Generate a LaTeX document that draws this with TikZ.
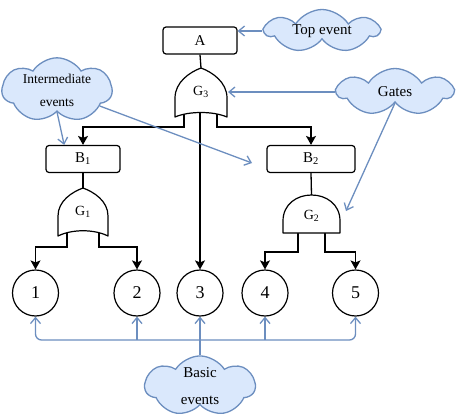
\documentclass[tikz,border=0pt]{standalone}
\usepackage{fontspec}
\setmainfont{Liberation Serif}
\usetikzlibrary{arrows.meta,shapes.symbols,calc}
\definecolor{notefill}{HTML}{DAE8FC}
\definecolor{noteline}{HTML}{6C8EBF}
\tikzset{
  evbox/.style={draw, line width=1.2pt, rounded corners=3pt, minimum width=74pt, minimum height=27pt, inner sep=0pt, font=\fontsize{15}{15}\selectfont},
  basicev/.style={draw, circle, line width=1.2pt, minimum size=46pt, inner sep=0pt, font=\fontsize{18}{18}\selectfont},
  gatelbl/.style={inner sep=0pt, font=\fontsize{14}{14}\selectfont},
  gate/.style={line width=1.2pt, fill=white, line join=round},
  wire/.style={line width=1.3pt},
  feed/.style={wire, -{Stealth[length=9pt,width=10pt,inset=2pt]}},
  note/.style={cloud, cloud puffs=7, cloud puff arc=115, cloud ignores aspect, draw=noteline, fill=notefill, line width=1.3pt, inner sep=0pt, align=center, font=\fontsize{15}{27}\selectfont},
  hint/.style={draw=noteline, line width=1.3pt, -{Straight Barb[length=6pt,width=10pt]}},
}
\begin{document}
\begin{tikzpicture}[x=1pt,y=-1pt]
    \useasboundingbox (0,0) rectangle (457,417);

    % Eventi
    \node[evbox] (A) at (200,40.5) {A};
    \node[evbox] (B1) at (83,159) {B\textsubscript{1}};
    \node[evbox, minimum width=88pt] (B2) at (311,159) {B\textsubscript{2}};
    \node[basicev] (e1) at (35.5,293) {1};
    \node[basicev] (e2) at (137,293) {2};
    \node[basicev] (e3) at (200,293) {3};
    \node[basicev] (e4) at (265,293) {4};
    \node[basicev] (e5) at (355.5,293) {5};

    % Punti delle porte
    \coordinate (g3top) at (201,68);
    \coordinate (g3l) at (184,112);
    \coordinate (g3m) at (200,110);
    \coordinate (g3r) at (217,112);
    \coordinate (g3east) at (228,92);
    \coordinate (g1top) at (83,188);
    \coordinate (g1l) at (67,230);
    \coordinate (g1r) at (99,230);
    \coordinate (g2top) at (311.5,195);
    \coordinate (g2l) at (298,233);
    \coordinate (g2r) at (325,233);
    \coordinate (g2east) at (346,211);

    % Collegamenti
    \draw[wire] (A.south) -- (g3top);
    \draw[feed] (g3l) -- ++(0,15) -| (B1.north);
    \draw[feed] (g3r) -- ++(0,15) -| (B2.north);
    \draw[feed] (g3m) -- (g3m |- e3.north);
    \draw[wire] (B1.south) -- (g1top);
    \draw[feed] (g1l) -- ++(0,17) -| (e1.north);
    \draw[feed] (g1r) -- ++(0,17) -| (e2.north);
    \draw[wire] (B2.south) -- (g2top);
    \draw[feed] (g2l) -- ++(0,19) -| (e4.north);
    \draw[feed] (g2r) -- ++(0,19) -| (e5.north);

    % Porta OR G3
    \draw[gate] (175,117) -- (175,98) .. controls (175,82) and (190,72) .. (201,68)
        .. controls (212,72) and (227,82) .. (227,98) -- (227,117)
        .. controls (213,111) and (189,111) .. (175,117) -- cycle;
    % Porta OR G1
    \draw[gate] (58,236) -- (58,216) .. controls (58,201) and (72,192) .. (83,188)
        .. controls (94,192) and (108,201) .. (108,216) -- (108,236)
        .. controls (94,229) and (72,229) .. (58,236) -- cycle;
    % Porta AND G2
    \draw[gate] (283,233) -- (283,221) .. controls (283,204) and (297,195) .. (311.5,195)
        .. controls (326,195) and (340,204) .. (340,221) -- (340,233) -- cycle;
    \node[gatelbl] (g3) at (201,92) {G\textsubscript{3}};
    \node[gatelbl] (g1) at (83,212) {G\textsubscript{1}};
    \node[gatelbl] (g2) at (311.5,216) {G\textsubscript{2}};

    % Nuvole
    \node[note, minimum width=113pt, minimum height=43pt] (topev) at (322,31) {Top event};
    \node[note, minimum width=115pt, minimum height=47pt] (gates) at (395,92) {Gates};
    \node[note, minimum width=110pt, minimum height=60pt, font=\fontsize{13.5}{23}\selectfont] (inter) at (57,90) {Intermediate\\events};
    \node[note, minimum width=110pt, minimum height=55pt] (basic) at (200,386) {Basic\\events};
    \coordinate (b2hint) at (252,163);
    \coordinate (bus) at (200,340);

    \draw[hint] (topev.west) -- (A.east |- topev.west);
    \draw[hint] (gates.west) -- (gates.west -| g3east);
    \draw[hint] (gates.south) -- (g2east);
    \draw[hint] (inter.south) -- ($(B1.north west)!0.25!(B1.north east)$);
    \draw[hint] (inter) -- (b2hint);
    \draw[hint] (basic.north) -- (e3.south);
    \draw[hint, rounded corners=6pt] (bus) -| (e1.south);
    \draw[hint, rounded corners=6pt] (bus) -| (e5.south);
    \draw[hint] (bus -| e2.south) -- (e2.south);
    \draw[hint] (bus -| e4.south) -- (e4.south);
\end{tikzpicture}
\end{document}
